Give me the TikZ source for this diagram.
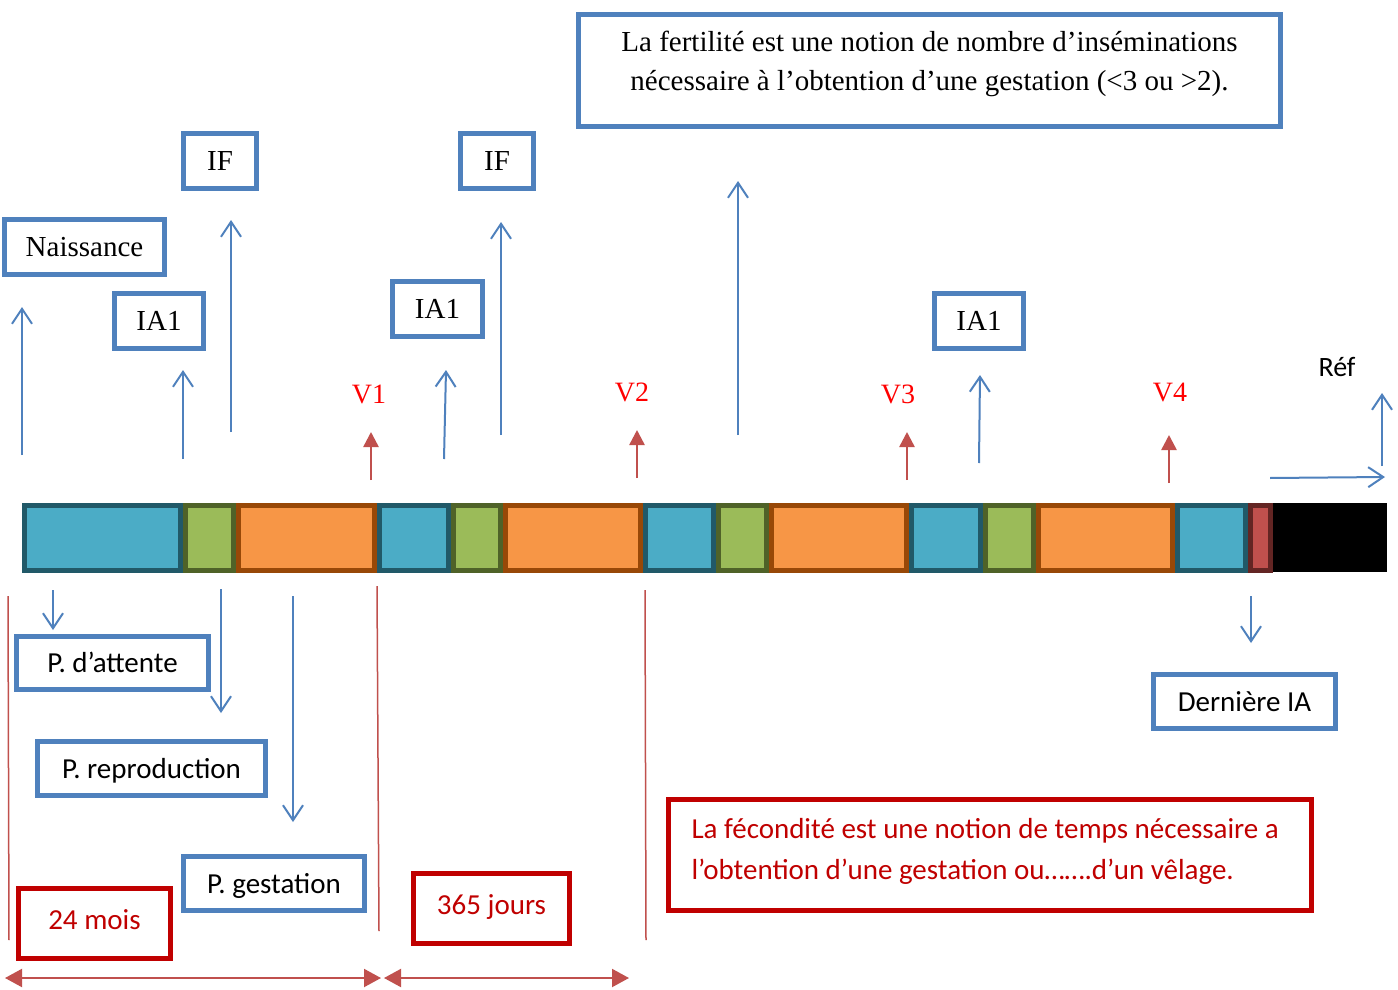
\documentclass[tikz,border=0pt]{standalone}
\usepackage{fontspec}
\setmainfont{Liberation Serif}
\newfontfamily\calibri{Carlito}
\usetikzlibrary{arrows.meta}
\definecolor{bblue}{HTML}{4F81BD}
\definecolor{bred}{HTML}{C00000}
\definecolor{rarr}{HTML}{C0504D}
\definecolor{vred}{HTML}{FF0000}
\definecolor{cfill}{HTML}{4BACC6}
\definecolor{cline}{HTML}{215968}
\definecolor{gfill}{HTML}{9BBB59}
\definecolor{gline}{HTML}{4F6228}
\definecolor{ofill}{HTML}{F79646}
\definecolor{oline}{HTML}{984807}
\definecolor{rfill}{HTML}{C0504D}
\definecolor{rline}{HTML}{632523}
\tikzset{
  bbox/.style={draw=bblue, line width=5pt, fill=white, inner sep=0pt, text height=19pt, text depth=0pt},
  rbox/.style={draw=bred, line width=5pt, fill=white, inner sep=0pt, text height=19pt, text depth=0pt, text=bred},
  tms/.style={font=\fontsize{29}{35}\selectfont},
  cal/.style={font=\calibri\fontsize{29}{35}\selectfont},
  vlab/.style={font=\fontsize{28}{34}\selectfont, text=vred},
  barrow/.style={draw=bblue, line width=2pt, -{Straight Barb[length=15pt,width=20pt,line width=2pt]}},
  rarrow/.style={draw=rarr, line width=2.5pt, -{Triangle[length=15pt,width=15pt]}},
  darrow/.style={draw=rarr, line width=2pt, {Triangle[length=17pt,width=18pt]}-{Triangle[length=17pt,width=18pt]}},
  redline/.style={draw=rarr, line width=1.5pt},
  segc/.style={draw=cline, fill=cfill, line width=5pt},
  segg/.style={draw=gline, fill=gfill, line width=5pt},
  sego/.style={draw=oline, fill=ofill, line width=5pt},
  segr/.style={draw=rline, fill=rfill, line width=5pt}
}
\begin{document}
\begin{tikzpicture}[x=1pt,y=-1pt]
\useasboundingbox (0,0) rectangle (1398,990);
\fill[white] (0,0) rectangle (1398,990);

% ---- bar ----
\path[segc] (24.5,505.5) rectangle (180.5,570.5);
\path[segg] (185.5,505.5) rectangle (233.5,570.5);
\path[sego] (238.5,505.5) rectangle (374.5,570.5);
\path[segc] (379.5,505.5) rectangle (448.5,570.5);
\path[segg] (453.5,505.5) rectangle (500.5,570.5);
\path[sego] (505.5,505.5) rectangle (640.5,570.5);
\path[segc] (645.5,505.5) rectangle (713.5,570.5);
\path[segg] (718.5,505.5) rectangle (766.5,570.5);
\path[sego] (771.5,505.5) rectangle (906.5,570.5);
\path[segc] (911.5,505.5) rectangle (980.5,570.5);
\path[segg] (985.5,505.5) rectangle (1033.5,570.5);
\path[sego] (1038.5,505.5) rectangle (1172.5,570.5);
\path[segc] (1177.5,505.5) rectangle (1245.5,570.5);
\path[segr] (1250.5,505.5) rectangle (1270.5,570.5);
\fill[black] (1273,503) rectangle (1387,572);

% ---- top boxes ----
\node[bbox, tms, minimum width=160, minimum height=55] (nais) at (84.5,247) {Naissance};
\node[bbox, tms, minimum width=89, minimum height=55] (iaA) at (159,321) {IA1};
\node[bbox, tms, minimum width=73, minimum height=55] (ifA) at (220,161) {IF};
\node[bbox, tms, minimum width=73, minimum height=55] (ifB) at (497,161) {IF};
\node[bbox, tms, minimum width=90, minimum height=55] (iaB) at (437.5,309) {IA1};
\node[bbox, tms, minimum width=89, minimum height=55] (iaC) at (979,321) {IA1};
\node[draw=bblue, line width=5pt, minimum width=702, minimum height=112] (fert) at (929.5,70.5) {};
\node[tms, anchor=base] (fertA) at (929.5,52) {La fertilité est une notion de nombre d’inséminations};
\node[tms, anchor=base] (fertB) at (929.5,91) {nécessaire à l’obtention d’une gestation (<3 ou >2).};

% ---- bottom boxes ----
\node[bbox, cal, minimum width=192, minimum height=53] (att) at (112.5,663) {P. d’attente};
\node[bbox, cal, minimum width=228, minimum height=54] (repro) at (151.5,768.5) {P. reproduction};
\node[bbox, cal, minimum width=181, minimum height=54] (gest) at (274,883.5) {P. gestation};
\node[bbox, cal, minimum width=182, minimum height=54] (der) at (1244.5,701.5) {Dernière IA};
\node[rbox, cal, minimum width=152, minimum height=70] (mois) at (94.5,923.5) {\raisebox{4pt}{24 mois}};
\node[rbox, cal, minimum width=156, minimum height=70] (jours) at (491.5,908.5) {\raisebox{4pt}{365 jours}};
\node[draw=bred, line width=5pt, minimum width=643, minimum height=111] (fec) at (990,855) {};
\node[cal, text=bred, anchor=base west] (fecA) at (688,838) {La fécondité est une notion de temps nécessaire a};
\node[cal, text=bred, anchor=base west] (fecB) at (688,879) {l’obtention d’une gestation ou…….d’un vêlage.};

% ---- labels ----
\node[vlab] (v1) at (369,394) {V1};
\node[vlab] (v2) at (632,392) {V2};
\node[vlab] (v3) at (898,394) {V3};
\node[vlab] (v4) at (1170,392) {V4};
\node[cal, font=\calibri\fontsize{28}{34}\selectfont] (ref) at (1337,367) {Réf};

% ---- blue up arrows ----
\coordinate (a1s) at (22,455);   \coordinate (a1e) at (22,307);
\coordinate (a2s) at (183,459);  \coordinate (a2e) at (183,370);
\coordinate (a3s) at (231,432);  \coordinate (a3e) at (231,220);
\coordinate (a4s) at (444,459);  \coordinate (a4e) at (446,370);
\coordinate (a5s) at (501,435);  \coordinate (a5e) at (501,222);
\coordinate (a6s) at (738,435);  \coordinate (a6e) at (738,181);
\coordinate (a7s) at (979,463);  \coordinate (a7e) at (980,375);
\draw[barrow] (a1s) -- (a1e);
\draw[barrow] (a2s) -- (a2e);
\draw[barrow] (a3s) -- (a3e);
\draw[barrow] (a4s) -- (a4e);
\draw[barrow] (a5s) -- (a5e);
\draw[barrow] (a6s) -- (a6e);
\draw[barrow] (a7s) -- (a7e);
% Ref arrows
\coordinate (rhs) at (1270,478); \coordinate (rhe) at (1385,477);
\coordinate (rvs) at (1382,466); \coordinate (rve) at (1382,393);
\draw[barrow] (rhs) -- (rhe);
\draw[barrow] (rvs) -- (rve);

% ---- blue down arrows ----
\coordinate (d1s) at (53,590);    \coordinate (d1e) at (53,630);
\coordinate (d2s) at (221,589);   \coordinate (d2e) at (221,713);
\coordinate (d3s) at (293,596);   \coordinate (d3e) at (293,822);
\coordinate (d4s) at (1251,596);  \coordinate (d4e) at (1251,643);
\draw[barrow] (d1s) -- (d1e);
\draw[barrow] (d2s) -- (d2e);
\draw[barrow] (d3s) -- (d3e);
\draw[barrow] (d4s) -- (d4e);

% ---- red V arrows ----
\coordinate (r1s) at (371,480);  \coordinate (r1e) at (371,432);
\coordinate (r2s) at (637,478);  \coordinate (r2e) at (637,430);
\coordinate (r3s) at (907,480);  \coordinate (r3e) at (907,432);
\coordinate (r4s) at (1169,483); \coordinate (r4e) at (1169,435);
\draw[rarrow] (r1s) -- (r1e);
\draw[rarrow] (r2s) -- (r2e);
\draw[rarrow] (r3s) -- (r3e);
\draw[rarrow] (r4s) -- (r4e);

% ---- red vertical lines ----
\coordinate (l1s) at (8,596);   \coordinate (l1e) at (9,940);
\coordinate (l2s) at (377,586); \coordinate (l2e) at (379,931);
\coordinate (l3s) at (645,590); \coordinate (l3e) at (646,940);
\draw[redline] (l1s) -- (l1e);
\draw[redline] (l2s) -- (l2e);
\draw[redline] (l3s) -- (l3e);

% ---- bottom double arrows ----
\coordinate (b1s) at (5,978);   \coordinate (b1e) at (381,978);
\coordinate (b2s) at (384,978); \coordinate (b2e) at (629,978);
\draw[darrow] (b1s) -- (b1e);
\draw[darrow] (b2s) -- (b2e);
\end{tikzpicture}
\end{document}
